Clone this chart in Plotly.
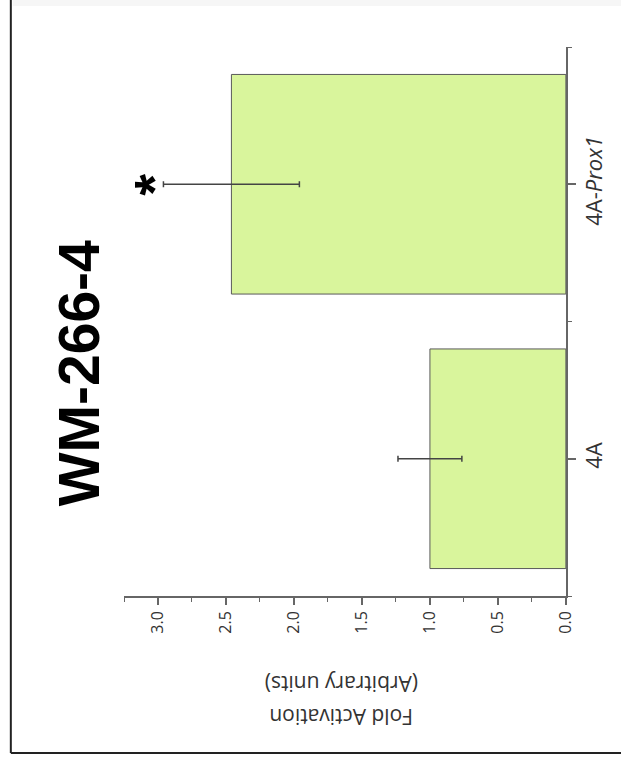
import plotly.graph_objects as go

# Data
categories = ["4A", "4A-<i>Prox1</i>"]
cat_pos = [0, 1]
fold_activation = [1.0, 2.46]
errors = [0.235, 0.50]
value_ticks = [0.0, 0.5, 1.0, 1.5, 2.0, 2.5, 3.0]
value_tick_labels = ["0.0", "0.5", "1.0", "1.5", "2.0", "2.5", "3.0"]
significance = ["", "*"]

W, H = 631, 765
px = lambda x: x / W
py = lambda y: 1 - y / H

fig = go.Figure()
fig.add_trace(go.Bar(
    y=cat_pos, x=fold_activation, orientation="h", width=0.8,
    marker=dict(color="#d9f59c", line=dict(color="#5a5a5a", width=1)),
    error_x=dict(type="data", array=errors, visible=True,
                 color="#444444", thickness=1.5, width=3),
    showlegend=False,
))

axis_col = "#666666"
fig.update_layout(
    width=W, height=H,
    margin=dict(l=0, r=0, t=0, b=0),
    paper_bgcolor="white", plot_bgcolor="white",
    xaxis=dict(
        range=[3.25, 0], domain=[px(126), px(575)],
        tickmode="array", tickvals=value_ticks, ticktext=value_tick_labels,
        tickangle=-90, ticks="outside", ticklen=7, tickwidth=1.5, tickcolor=axis_col,
        minor=dict(tickmode="linear", tick0=0, dtick=0.25, ticks="outside",
                   ticklen=4, tickwidth=1.2, tickcolor=axis_col),
        showline=True, linecolor=axis_col, linewidth=1.5,
        showgrid=False, zeroline=False,
        tickfont=dict(family="Open Sans", size=16, color="#333333"),
        fixedrange=True,
    ),
    yaxis=dict(
        range=[-0.5, 1.5], domain=[py(596), py(47)], side="right",
        tickmode="array", tickvals=cat_pos, ticktext=categories,
        tickangle=-90, ticks="outside", ticklen=8, tickwidth=1.5, tickcolor=axis_col,
        minor=dict(tickmode="array", tickvals=[-0.5, 0.5, 1.5], ticks="outside",
                   ticklen=4, tickwidth=1.2, tickcolor=axis_col),
        showline=True, linecolor=axis_col, linewidth=1.5,
        showgrid=False, zeroline=False,
        tickfont=dict(family="Open Sans", size=22, color="#333333"),
        fixedrange=True,
    ),
)

# Title
fig.add_annotation(xref="paper", yref="paper", x=px(46), y=py(373),
                   text="<b>WM-266-4</b>", showarrow=False, textangle=-90,
                   font=dict(family="Liberation Sans", size=57, color="black"))
# Axis title (upside down)
fig.add_annotation(xref="paper", yref="paper", x=px(347), y=py(700),
                   text="(Arbitrary units)", showarrow=False, textangle=180,
                   font=dict(family="Open Sans", size=21, color="#333333"))
fig.add_annotation(xref="paper", yref="paper", x=px(347), y=py(733),
                   text="Fold Activation", showarrow=False, textangle=180,
                   font=dict(family="Open Sans", size=21, color="#333333"))
# Significance marks
for yv, v, e, s in zip(cat_pos, fold_activation, errors, significance):
    if s:
        fig.add_annotation(x=v + e, y=yv, xref="x", yref="y", text="<b>*</b>",
                           showarrow=False, textangle=-90, xshift=-10,
                           font=dict(family="Liberation Sans", size=56, color="black"))

# Outer frame
fig.add_shape(type="rect", xref="paper", yref="paper", x0=px(13), x1=1, y0=py(6), y1=1,
              fillcolor="#f6f6f6", line=dict(width=0), layer="below")
fig.add_shape(type="line", xref="paper", yref="paper", x0=px(11), x1=px(11), y0=py(753), y1=1,
              line=dict(color="#222222", width=2))
fig.add_shape(type="line", xref="paper", yref="paper", x0=px(11), x1=1, y0=py(753), y1=py(753),
              line=dict(color="#222222", width=2))

fig.write_html("out.html")
